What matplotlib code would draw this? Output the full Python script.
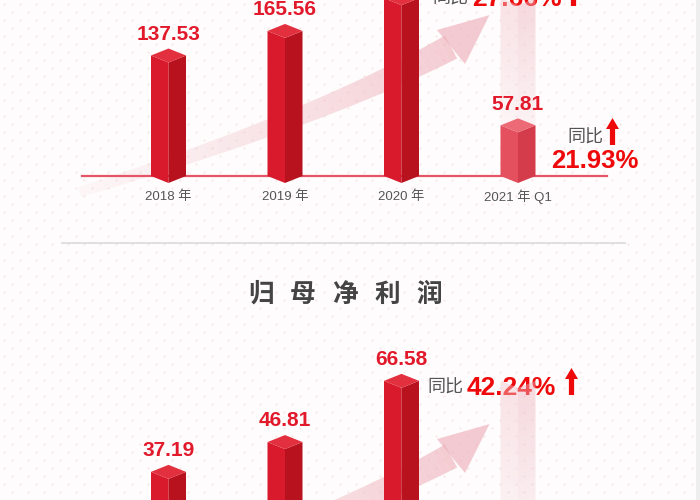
import numpy as np
import matplotlib
matplotlib.use("Agg")
import matplotlib.pyplot as plt

plt.rcParams['font.family'] = ['Liberation Sans', 'Noto Sans CJK SC', 'DejaVu Sans']

# data
years = ["2018 年", "2019 年", "2020 年", "2021 年 Q1"]
revenue = [137.53, 165.56, 203.0, 57.81]
net_profit = [37.19, 46.81, 66.58, 17.15]
rev_yoy = ["27.66%", "21.93%"]
np_yoy = "42.24%"
title2 = "归母净利润"

RED_L = "#d91a2c"
RED_R = "#b8121f"
RED_T = "#e3303f"
Q1_L = "#e4505e"
Q1_R = "#d43c4c"
Q1_T = "#ec6a76"
LABEL_RED = "#e2182b"
PCT_RED = "#ee0a0a"
GRAY = "#555555"

# pixel layout -> data units
X0 = -168.5 / 116.5
X1 = (700 - 168.5) / 116.5
HW = 17.5 / 116.5


def prism(ax, x, v, base, h, cl, cr, ct, z=3, alpha=1.0):
    ax.fill([x - HW, x, x, x - HW], [v, v - h, base - h, base], color=cl, lw=0, zorder=z, alpha=alpha)
    ax.fill([x, x + HW, x + HW, x], [v - h, v, base, base - h], color=cr, lw=0, zorder=z, alpha=alpha)
    ax.fill([x - HW, x, x + HW, x], [v, v + h, v, v - h], color=ct, lw=0, zorder=z + 0.1, alpha=alpha)


def ghost(ax, x, v0, v1, h, n=24):
    edges = np.linspace(v0, v1, n + 1)
    for k in range(n):
        a = 0.12 + 0.35 * k / n
        lo, hi = edges[k], edges[k + 1]
        ax.fill([x - HW, x, x, x - HW], [hi, hi - h, lo - h, lo], color="#f3c3cb", lw=0, alpha=a, zorder=1.5)
        ax.fill([x, x + HW, x + HW, x], [hi - h, hi, lo, lo - h], color="#ecb0ba", lw=0, alpha=a, zorder=1.5)


def up_arrow(ax, cx, top, bottom, color=PCT_RED):
    hw, sw, hh = 6.5, 2.6, 11
    ax.fill([cx, cx + hw, cx + sw, cx + sw, cx - sw, cx - sw, cx - hw],
            [top, top + hh, top + hh, bottom, bottom, top + hh, top + hh],
            color=color, lw=0, zorder=6)


def sweep_arrow(ax, dy):
    p0 = np.array([80, 192 + dy])
    c = np.array([320, 118 + dy])
    p2 = np.array([451, 47 + dy])
    t = np.linspace(0, 1, 40)
    pts = ((1 - t) ** 2)[:, None] * p0 + (2 * t * (1 - t))[:, None] * c + (t ** 2)[:, None] * p2
    d = np.gradient(pts, axis=0)
    d /= np.linalg.norm(d, axis=1)[:, None]
    nrm = np.stack([-d[:, 1], d[:, 0]], axis=1)
    wid = 5 + 8 * t
    up = pts + nrm * wid[:, None]
    dn = pts - nrm * wid[:, None]
    for k in range(len(t) - 1):
        a = 0.08 + 0.55 * t[k]
        quad = np.array([up[k], up[k + 1], dn[k + 1], dn[k]])
        ax.fill(quad[:, 0], quad[:, 1], color="#eeb0ba", lw=0, alpha=a, zorder=1)
    dend = np.array([41, -34]) / np.hypot(41, 34)
    nend = np.array([-dend[1], dend[0]])
    tip = p2 + dend * 50
    w1 = p2 + nend * 22
    w2 = p2 - nend * 22
    ax.fill([tip[0], w1[0], w2[0]], [tip[1], w1[1], w2[1]], color="#eeb0ba", lw=0, alpha=0.65, zorder=1)


fig = plt.figure(figsize=(7, 5), dpi=100)
fig.patch.set_facecolor("#fefcfc")

bg = fig.add_axes([0, 0, 1, 1])
bg.set_xlim(0, 700)
bg.set_ylim(500, 0)
bg.axis("off")

# faint dotted background
gx, gy = [], []
for r, yy in enumerate(np.arange(4, 500, 8)):
    xs = np.arange(4 + (8 if r % 2 else 0), 700, 16)
    gx.extend(xs)
    gy.extend([yy] * len(xs))
bg.scatter(gx, gy, s=2.5, color="#f8e8e8", lw=0, zorder=0)
bg.fill([696, 700, 700, 696], [0, 0, 500, 500], color="#eeeeee", lw=0, zorder=0.5)

sweep_arrow(bg, 0)
sweep_arrow(bg, 409)

# divider and title
bg.plot([62, 625], [243, 243], color="#dddddd", lw=1.3, zorder=1)
for k, ch in enumerate(title2):
    bg.text(261 + 42 * k, 294, ch, ha="center", va="center", fontsize=18.5,
            color="#444444", family=["Noto Sans CJK SC"], weight="bold", zorder=5)

# ---- top panel: revenue
ax1 = fig.add_axes([0, 1 - 243 / 500, 1, 243 / 500])
ax1.set_xlim(X0, X1)
ax1.set_ylim(-76.5, 200.9)
ax1.axis("off")
ax1.patch.set_visible(False)
h1 = 7 / 0.876

ax1.axhline(0, xmin=82 / 700, xmax=607 / 700, color="#e45566", lw=1.6, zorder=2)
ghost(ax1, 3, revenue[3], revenue[2], h1)
for i, v in enumerate(revenue):
    if i < 3:
        prism(ax1, i, v, 0, h1, RED_L, RED_R, RED_T)
    else:
        prism(ax1, i, v, 0, h1, Q1_L, Q1_R, Q1_T)
    ax1.annotate(f"{v:.2f}", xy=(i, v), xytext=(0, 15.3), textcoords="offset points",
                 ha="center", va="center", fontsize=15, fontweight="bold", color=LABEL_RED, zorder=6)
    ax1.annotate(years[i], xy=(i, 0), xytext=(0, -15), textcoords="offset points",
                 ha="center", va="center", fontsize=9.5, color=GRAY, zorder=6)

# ---- bottom panel: net profit
ax2 = fig.add_axes([0, 0, 1, 257 / 500])
ax2.set_xlim(X0, X1)
ax2.set_ylim(28.1, 111.1)
ax2.axis("off")
ax2.patch.set_visible(False)
h2 = 7 / 3.097

ghost(ax2, 3, net_profit[3], net_profit[2], h2)
for i, v in enumerate(net_profit):
    if i < 3:
        prism(ax2, i, v, 0, h2, RED_L, RED_R, RED_T)
    else:
        prism(ax2, i, v, 0, h2, Q1_L, Q1_R, Q1_T)
    ax2.annotate(f"{v:.2f}", xy=(i, v), xytext=(0, 15.3), textcoords="offset points",
                 ha="center", va="center", fontsize=15, fontweight="bold", color=LABEL_RED,
                 zorder=6, annotation_clip=False)

# year-on-year callouts
bg.text(432, -1, "同比", ha="left", va="center", fontsize=13, color=GRAY, zorder=6)
bg.text(472, -1, rev_yoy[0], ha="left", va="center", fontsize=19, fontweight="bold", color=PCT_RED, zorder=6)
up_arrow(bg, 573.5, -22, 6)

bg.text(585, 138, "同比", ha="center", va="center", fontsize=13, color=GRAY, zorder=6)
up_arrow(bg, 612.5, 118, 145)
bg.text(595, 161, rev_yoy[1], ha="center", va="center", fontsize=18.5, fontweight="bold", color=PCT_RED, zorder=6)

bg.text(427, 388, "同比", ha="left", va="center", fontsize=13, color=GRAY, zorder=6)
bg.text(467, 388, np_yoy, ha="left", va="center", fontsize=19, fontweight="bold", color=PCT_RED, zorder=6)
up_arrow(bg, 571.5, 368, 395)

fig.savefig("out.png", dpi=100, facecolor=fig.get_facecolor())
